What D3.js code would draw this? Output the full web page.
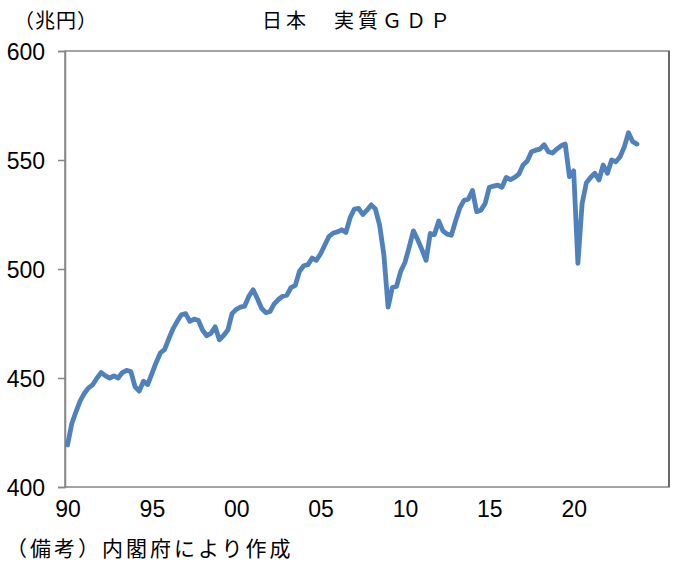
<!DOCTYPE html>
<html>
<head>
<meta charset="utf-8">
<script src="https://cdn.jsdelivr.net/npm/d3@7"></script>
<style>
  body { margin: 0; background: #fff; }
  svg { display: block; }
  .jp { font-family: "Noto Sans CJK JP", sans-serif; fill: #000; }
  .num { font-family: "Liberation Sans Narrow", "Arial Narrow", sans-serif; fill: #000; }
</style>
</head>
<body>
<div id="chart"></div>
<script>
// quarterly real GDP, trillion yen, 1990Q1 .. 2023Q4
const startYear = 1990;
const gdp = [
  419.3, 429, 434.5, 439.5, 443, 445.5, 447, 450,        // 1990-91
  452.5, 451, 450, 451, 450, 452.5, 453.5, 453,          // 1992-93
  446, 444, 448.5, 447, 452, 457, 461.5, 463,            // 1994-95
  468, 472.5, 476, 479, 479.5, 476, 477, 476.5,          // 1996-97
  472, 469.4, 470.5, 473.5, 467.5, 469.5, 472, 479.5,    // 1998-99
  481.5, 482.5, 483, 487.5, 490.5, 486.5, 482, 480,      // 2000-01
  480.5, 484, 486, 487.5, 488, 491.5, 492.5, 499,        // 2002-03
  501.5, 502, 505, 504, 507, 511, 515, 516.5,            // 2004-05
  517, 518, 516.8, 523.5, 527.5, 527.8, 525, 527,        // 2006-07
  529.4, 527.5, 520, 506.5, 482.5, 491.5, 492, 499,      // 2008-09
  503, 510, 517.5, 513.5, 509, 504, 516.3, 515.8,        // 2010-11
  522, 517.5, 516, 515.5, 522, 528, 531.5, 532,          // 2012-13
  536, 526.3, 527, 530, 537.5, 538, 538.5, 537.5,        // 2014-15
  542, 541, 542, 543.5, 547.7, 549.5, 553.8, 554.5,      // 2016-17
  555, 557, 553.8, 553.2, 555, 556.5, 557.3, 542.4,      // 2018-19
  545, 502.6, 530, 539.5, 542, 543.9, 540.8, 547.7,      // 2020-21
  543.9, 550, 549.2, 551.5, 556, 562.5, 558.4, 557.3     // 2022-23
];
const yTicks = [400, 450, 500, 550, 600];
const xTicks = [1990, 1995, 2000, 2005, 2010, 2015, 2020];
const xTickLabels = ["90", "95", "00", "05", "10", "15", "20"];

const width = 681, height = 562;
const margin = { top: 51, right: 12, bottom: 75, left: 65 };

const svg = d3.select("#chart").append("svg")
  .attr("width", width)
  .attr("height", height);

const x = d3.scaleLinear()
  .domain([startYear - 0.15, startYear + 35.65])
  .range([margin.left, width - margin.right]);

const y = d3.scaleLinear()
  .domain([400, 600])
  .range([height - margin.bottom, margin.top]);

// plot frame
svg.append("rect")
  .attr("x", margin.left)
  .attr("y", margin.top)
  .attr("width", width - margin.left - margin.right)
  .attr("height", height - margin.top - margin.bottom)
  .attr("fill", "none")
  .attr("stroke", "#868686")
  .attr("stroke-width", 1.5);
svg.append("line")
  .attr("x1", width - margin.right).attr("x2", width - margin.right)
  .attr("y1", margin.top).attr("y2", height - margin.bottom)
  .attr("stroke", "#555")
  .attr("stroke-width", 1.5);

// y axis
const yAxis = svg.append("g")
  .attr("transform", `translate(${margin.left},0)`)
  .call(d3.axisLeft(y).tickValues(yTicks).tickSize(7).tickPadding(13));
yAxis.select(".domain").attr("stroke", "#868686").attr("stroke-width", 1.5);
yAxis.selectAll(".tick line").attr("stroke", "#868686").attr("stroke-width", 1.5);
yAxis.selectAll(".tick text")
  .attr("class", "num")
  .attr("font-size", 23)
  .attr("dy", "0.36em");

// x axis (labels only)
const xAxis = svg.append("g")
  .attr("transform", `translate(0,${height - margin.bottom})`)
  .call(d3.axisBottom(x).tickValues(xTicks).tickSize(0).tickPadding(14)
    .tickFormat((d, i) => xTickLabels[i]));
xAxis.select(".domain").remove();
xAxis.selectAll(".tick text")
  .attr("class", "num")
  .attr("font-size", 23);

// series line
const line = d3.line()
  .x((d, i) => x(startYear + i / 4))
  .y(d => y(d));

svg.append("path")
  .datum(gdp)
  .attr("d", line)
  .attr("fill", "none")
  .attr("stroke", "#4F81BD")
  .attr("stroke-width", 4.8)
  .attr("stroke-linejoin", "round")
  .attr("stroke-linecap", "round");

// texts
svg.append("text")
  .attr("class", "jp")
  .attr("x", 358)
  .attr("y", 28)
  .attr("text-anchor", "middle")
  .attr("font-size", 20)
  .attr("letter-spacing", 4)
  .text("日本　実質ＧＤＰ");

svg.append("text")
  .attr("class", "jp")
  .attr("x", 14)
  .attr("y", 28)
  .attr("font-size", 20)
  .attr("letter-spacing", 1)
  .text("（兆円）");

svg.append("text")
  .attr("class", "jp")
  .attr("x", 6)
  .attr("y", 556)
  .attr("font-size", 21)
  .attr("letter-spacing", 3)
  .text("（備考）内閣府により作成");
</script>
</body>
</html>
